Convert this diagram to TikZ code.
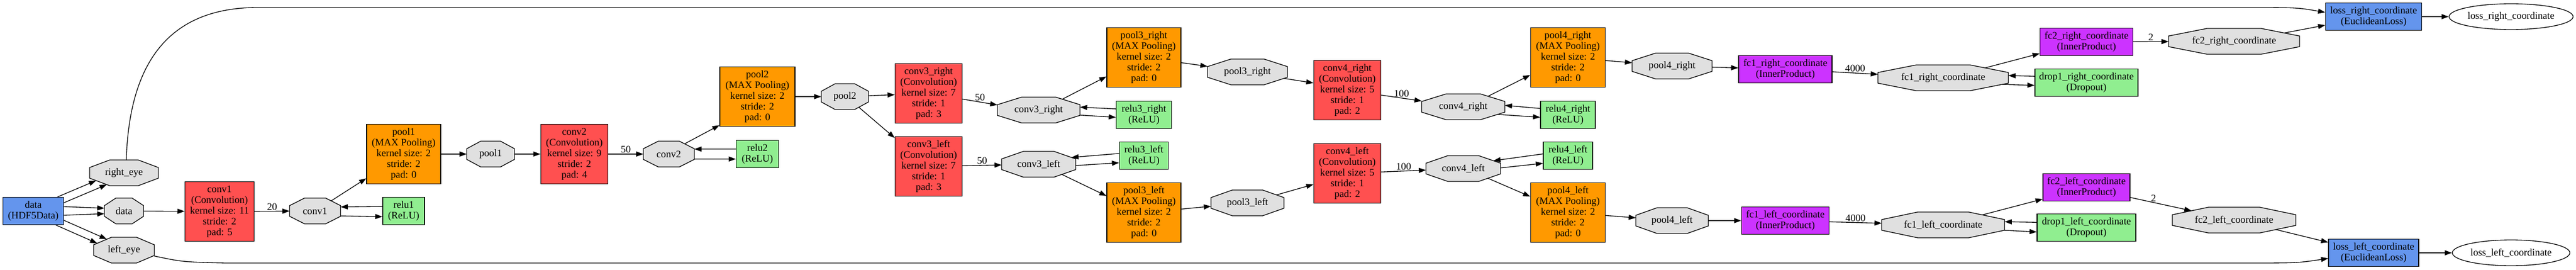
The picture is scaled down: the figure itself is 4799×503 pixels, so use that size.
\documentclass[tikz,border=0pt]{standalone}
\usepackage{fontspec}
\setmainfont{Liberation Serif}
\usepackage{tikz}
\usetikzlibrary{shapes}
\usetikzlibrary{calc}
\usetikzlibrary{backgrounds}
\usetikzlibrary{arrows.meta}
\definecolor{datablue}{HTML}{6495ED}
\definecolor{convred}{HTML}{FF5050}
\definecolor{poolorange}{HTML}{FF9900}
\definecolor{fcpurple}{HTML}{CC33FF}
\definecolor{neurongreen}{HTML}{90EE90}
\definecolor{blobgray}{HTML}{E0E0E0}
\tikzset{
    layerbox/.style = {rectangle, line width=1pt, draw=black, align=center, inner xsep=2pt, inner ysep=0pt, minimum height=38.25pt, minimum width=#1*0.75pt},
    io/.style = {layerbox=#1, fill=datablue},
    conv/.style = {layerbox=#1, fill=convred, minimum height=83.25pt},
    pool/.style = {layerbox=#1, fill=poolorange, minimum height=83.25pt},
    fc/.style = {layerbox=#1, fill=fcpurple},
    neuron/.style = {layerbox=#1, fill=neurongreen},
    blob/.style = {rectangle, draw=none, inner sep=0pt, outer sep=0pt, minimum height=36pt, minimum width=#1*0.75pt},
    blobline/.style = {line width=1pt, draw=black, fill=blobgray},
    lossout/.style = {ellipse, line width=1pt, draw=black, inner sep=0pt, minimum height=36pt, minimum width=#1*0.75pt},
    conn/.style = {-{Triangle[length=10pt,width=7pt]}, line width=1pt},
    lbl/.style = {above, inner sep=1pt}
}
\begin{document}
\begin{tikzpicture}[x=0.75pt, y=0.75pt, font=\fontsize{14}{15}\selectfont]
\useasboundingbox (0,0) rectangle (4799,-503);
%
\node[io=113] at (62,-393) (data) {data\\(HDF5Data)};
\node[blob=128] at (231,-322) (righteye) {right\_eye};
\node[blob=73] at (231,-393) (datab) {data};
\node[blob=113] at (231,-466) (lefteye) {left\_eye};
\node[conv=129] at (409,-394) (conv1) {conv1\\(Convolution)\\kernel size: 11\\stride: 2\\pad: 5};
\node[blob=95] at (587,-393) (conv1b) {conv1};
\node[neuron=78] at (752,-393) (relu1) {relu1\\(ReLU)};
\node[pool=138] at (752,-287) (pool1) {pool1\\(MAX Pooling)\\kernel size: 2\\stride: 2\\pad: 0};
\node[blob=89] at (914,-287) (pool1b) {pool1};
\node[conv=125] at (1070,-287) (conv2) {conv2\\(Convolution)\\kernel size: 9\\stride: 2\\pad: 4};
\node[blob=95] at (1246,-287) (conv2b) {conv2};
\node[pool=140] at (1411,-180) (pool2) {pool2\\(MAX Pooling)\\kernel size: 2\\stride: 2\\pad: 0};
\node[neuron=79] at (1411,-287) (relu2) {relu2\\(ReLU)};
\node[blob=88] at (1574,-180) (pool2b) {pool2};
%
\node[conv=125] at (1730,-174) (conv3r) {conv3\_right\\(Convolution)\\kernel size: 7\\stride: 1\\pad: 3};
\node[conv=125] at (1730,-310) (conv3l) {conv3\_left\\(Convolution)\\kernel size: 7\\stride: 1\\pad: 3};
\node[blob=154] at (1935,-205) (conv3rb) {conv3\_right};
\node[blob=138] at (1935,-306) (conv3lb) {conv3\_left};
\node[pool=138] at (2131,-107) (pool3r) {pool3\_right\\(MAX Pooling)\\kernel size: 2\\stride: 2\\pad: 0};
\node[neuron=103] at (2131,-214) (relu3r) {relu3\_right\\(ReLU)};
\node[neuron=91] at (2131,-290) (relu3l) {relu3\_left\\(ReLU)};
\node[pool=138] at (2131,-396) (pool3l) {pool3\_left\\(MAX Pooling)\\kernel size: 2\\stride: 2\\pad: 0};
\node[blob=149] at (2324,-134) (pool3rb) {pool3\_right};
\node[blob=136] at (2324,-378) (pool3lb) {pool3\_left};
%
\node[conv=125] at (2510,-168) (conv4r) {conv4\_right\\(Convolution)\\kernel size: 5\\stride: 1\\pad: 2};
\node[conv=125] at (2510,-323) (conv4l) {conv4\_left\\(Convolution)\\kernel size: 5\\stride: 1\\pad: 2};
\node[blob=155] at (2726,-199) (conv4rb) {conv4\_right};
\node[blob=139] at (2726,-314) (conv4lb) {conv4\_left};
\node[pool=139] at (2921,-107) (pool4r) {pool4\_right\\(MAX Pooling)\\kernel size: 2\\stride: 2\\pad: 0};
\node[neuron=102] at (2921,-214) (relu4r) {relu4\_right\\(ReLU)};
\node[neuron=92] at (2921,-290) (relu4l) {relu4\_left\\(ReLU)};
\node[pool=139] at (2921,-396) (pool4l) {pool4\_left\\(MAX Pooling)\\kernel size: 2\\stride: 2\\pad: 0};
\node[blob=149] at (3115,-123) (pool4rb) {pool4\_right};
\node[blob=135] at (3115,-411) (pool4lb) {pool4\_left};
%
\node[fc=174] at (3326,-129) (fc1r) {fc1\_right\_coordinate\\(InnerProduct)};
\node[fc=163] at (3326,-411) (fc1l) {fc1\_left\_coordinate\\(InnerProduct)};
\node[blob=243] at (3620,-145) (fc1rb) {fc1\_right\_coordinate};
\node[blob=229] at (3620,-419) (fc1lb) {fc1\_left\_coordinate};
\node[fc=173] at (3887,-78) (fc2r) {fc2\_right\_coordinate\\(InnerProduct)};
\node[neuron=192] at (3887,-154) (drop1r) {drop1\_right\_coordinate\\(Dropout)};
\node[fc=162] at (3887,-349) (fc2l) {fc2\_left\_coordinate\\(InnerProduct)};
\node[neuron=184] at (3887,-424) (drop1l) {drop1\_left\_coordinate\\(Dropout)};
\node[blob=244] at (4162,-77) (fc2rb) {fc2\_right\_coordinate};
\node[blob=230] at (4162,-410) (fc2lb) {fc2\_left\_coordinate};
\node[io=179] at (4422,-31) (lossR) {loss\_right\_coordinate\\(EuclideanLoss)};
\node[io=168] at (4422,-471) (lossL) {loss\_left\_coordinate\\(EuclideanLoss)};
\node[lossout=231] at (4678,-31) (lossRb) {loss\_right\_coordinate};
\node[lossout=219] at (4678,-471) (lossLb) {loss\_left\_coordinate};
%
\begin{scope}[on background layer]
\foreach \bl in {righteye,datab,lefteye,conv1b,pool1b,conv2b,pool2b,conv3rb,conv3lb,pool3rb,pool3lb,conv4rb,conv4lb,pool4rb,pool4lb,fc1rb,fc1lb,fc2rb,fc2lb}
  \draw[blobline]
     ($(\bl.north west)!0.293!(\bl.north east)$) coordinate (\bl-1)
  -- ($(\bl.north east)!0.293!(\bl.north west)$) coordinate (\bl-2)
  -- ($(\bl.north east)!0.293!(\bl.south east)$) coordinate (\bl-3)
  -- ($(\bl.south east)!0.293!(\bl.north east)$) coordinate (\bl-4)
  -- ($(\bl.south east)!0.293!(\bl.south west)$) coordinate (\bl-5)
  -- ($(\bl.south west)!0.293!(\bl.south east)$) coordinate (\bl-6)
  -- ($(\bl.south west)!0.293!(\bl.north west)$) coordinate (\bl-7)
  -- ($(\bl.north west)!0.293!(\bl.south west)$) coordinate (\bl-8)
  -- cycle;
\end{scope}
%
\draw[conn] (data.30) -- ($(righteye-7)!0.32!(righteye-6)$);
\draw[conn] (data.15) -- ($(righteye-7)!0.85!(righteye-6)$);
\draw[conn] (data.8) -- (datab.172);
\draw[conn] (data.-8) -- (datab.-172);
\draw[conn] (data.-17) -- ($(lefteye-8)!0.74!(lefteye-1)$);
\draw[conn] (data.-32) -- ($(lefteye-8)!0.2!(lefteye-1)$);
\draw[conn] (righteye.80) .. controls (240,-150) and (290,-14) .. (480,-14) -- (4180,-14) .. controls (4280,-14) .. (lossR.175);
\draw[conn] (lefteye.-11) .. controls (340,-488) .. (420,-490) -- (4180,-490) .. controls (4280,-490) .. (lossL.187);
%
\draw[conn] (datab) -- (conv1);
\draw[conn] (conv1) -- node[lbl] (n20) {20} (conv1b);
\draw[conn] ($(conv1b-2)!0.37!(conv1b-3)$) -- (pool1.213);
\draw[conn] (relu1.168) -- (conv1b.9);
\draw[conn] (conv1b.-11) -- (relu1.195);
\draw[conn] (pool1) -- (pool1b);
\draw[conn] (pool1b) -- (conv2);
\draw[conn] (conv2) -- node[lbl] (n50) {50} (conv2b);
\draw[conn] ($(conv2b-2)!0.35!(conv2b-3)$) -- (pool2.217);
\draw[conn] (relu2.167) -- (conv2b.11);
\draw[conn] (conv2b.-11) -- (relu2.193);
\draw[conn] (pool2) -- (pool2b);
\draw[conn] (pool2b) -- (conv3r);
\draw[conn] ($(pool2b-4)!0.7!(pool2b-5)$) -- (conv3l.140);
%
\draw[conn] (conv3r) -- node[lbl] (n50r) {50} (conv3rb.173);
\draw[conn] ($(conv3rb-2)!0.27!(conv3rb-3)$) -- (pool3r.207);
\draw[conn] (relu3r.168) -- (conv3rb.4);
\draw[conn] (conv3rb.-7) -- (relu3r.185);
\draw[conn] (conv3l) -- node[lbl] (n50l) {50} (conv3lb);
\draw[conn] (relu3l.175) -- ($(conv3lb-3)!0.2!(conv3lb-2)$);
\draw[conn] (conv3lb.-2) -- (relu3l.196);
\draw[conn] ($(conv3lb-4)!0.64!(conv3lb-5)$) -- (pool3l.156);
\draw[conn] (pool3r) -- (pool3rb);
\draw[conn] ($(pool3rb-4)!0.15!(pool3rb-5)$) -- (conv4r.168);
\draw[conn] (pool3l) -- (pool3lb);
\draw[conn] ($(pool3lb-2)!0.65!(pool3lb-3)$) -- (conv4l.198);
%
\draw[conn] (conv4r) -- node[lbl] (n100r) {100} (conv4rb.172);
\draw[conn] ($(conv4rb-2)!0.31!(conv4rb-3)$) -- (pool4r.205);
\draw[conn] (relu4r.167) -- (conv4rb.2);
\draw[conn] ($(conv4rb-4)!0.3!(conv4rb-5)$) -- (relu4r.185);
\draw[conn] (conv4l) -- node[lbl] (n100l) {100} (conv4lb);
\draw[conn] (relu4l.176) -- ($(conv4lb-3)!0.33!(conv4lb-2)$);
\draw[conn] (conv4lb.1) -- (relu4l.197);
\draw[conn] ($(conv4lb-4)!0.58!(conv4lb-5)$) -- (pool4l.157);
\draw[conn] (pool4r) -- (pool4rb);
\draw[conn] (pool4rb) -- (fc1r);
\draw[conn] (pool4l) -- (pool4lb);
\draw[conn] (pool4lb) -- (fc1l);
%
\draw[conn] (fc1r) -- node[lbl] (n4000r) {4000} (fc1rb);
\draw[conn] ($(fc1rb-2)!0.39!(fc1rb-3)$) -- (fc2r.194);
\draw[conn] (drop1r.173) -- (fc1rb.2);
\draw[conn] ($(fc1rb-4)!0.16!(fc1rb-5)$) -- (drop1r.183);
\draw[conn] (fc1l) -- node[lbl] (n4000l) {4000} (fc1lb);
\draw[conn] ($(fc1lb-2)!0.38!(fc1lb-3)$) -- (fc2l.195);
\draw[conn] (drop1l.174) -- (fc1lb.3);
\draw[conn] (fc1lb.-5) -- (drop1l.185);
\draw[conn] (fc2r) -- node[lbl] (n2r) {2} (fc2rb);
\draw[conn] (fc2l.-13) -- node[lbl,pos=0.38] (n2l) {2} ($(fc2lb-8)!0.53!(fc2lb-1)$);
\draw[conn] ($(fc2rb-2)!0.6!(fc2rb-3)$) -- (lossR.190);
\draw[conn] ($(fc2lb-4)!0.55!(fc2lb-5)$) -- (lossL.167);
\draw[conn] (lossR) -- (lossRb);
\draw[conn] (lossL) -- (lossLb);

\end{tikzpicture}
\end{document}
